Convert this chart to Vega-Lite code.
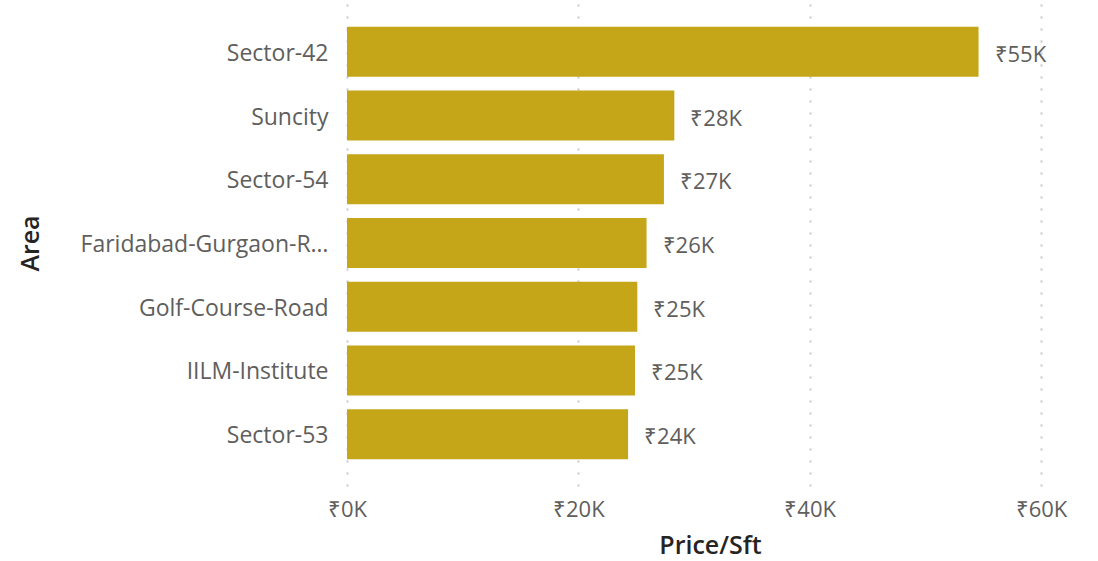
{
  "$schema": "https://vega.github.io/schema/vega-lite/v6.json",
  "autosize": {"type": "none"},
  "padding": {"left": 347, "top": 0, "right": 57, "bottom": 75},
  "width": 694,
  "height": 486,
  "background": "white",
  "config": {
    "view": {"stroke": null},
    "font": "Open Sans"
  },
  "data": {
    "values": [
      {"Area": "Sector-42", "Price": 54600},
      {"Area": "Suncity", "Price": 28300},
      {"Area": "Sector-54", "Price": 27400},
      {"Area": "Faridabad-Gurgaon-Road", "Price": 25900},
      {"Area": "Golf-Course-Road", "Price": 25100},
      {"Area": "IILM-Institute", "Price": 24900},
      {"Area": "Sector-53", "Price": 24300}
    ]
  },
  "encoding": {
    "y": {
      "field": "Area",
      "type": "nominal",
      "sort": ["Sector-42", "Suncity", "Sector-54", "Faridabad-Gurgaon-Road", "Golf-Course-Road", "IILM-Institute", "Sector-53"],
      "scale": {"paddingInner": 0.215, "paddingOuter": 0.42},
      "axis": {
        "title": "Area",
        "domain": false,
        "ticks": false,
        "labelFontSize": 23,
        "labelColor": "#605E5C",
        "labelPadding": 19,
        "labelOffset": 2,
        "labelLimit": 256,
        "titleFontSize": 25,
        "titleFontWeight": 600,
        "titleColor": "#252423",
        "titleX": -317,
        "titleY": 243,
        "titleAngle": 270,
        "titleAlign": "center",
        "titleBaseline": "middle"
      }
    },
    "x": {
      "field": "Price",
      "type": "quantitative",
      "scale": {"domain": [0, 60000], "nice": false},
      "axis": {
        "title": "Price/Sft",
        "values": [0, 20000, 40000, 60000],
        "labelExpr": "'₹' + (datum.value/1000) + 'K'",
        "labelFlush": false,
        "domain": false,
        "ticks": false,
        "grid": true,
        "gridDash": [2, 10],
        "gridColor": "#C8C8C8",
        "gridWidth": 2,
        "labelFontSize": 22,
        "labelColor": "#605E5C",
        "labelPadding": 13,
        "titleFontSize": 25,
        "titleFontWeight": 600,
        "titleColor": "#252423",
        "titleX": 363,
        "titleY": 59,
        "titleBaseline": "middle"
      }
    }
  },
  "layer": [
    {"mark": {"type": "bar", "color": "#C4A618"}},
    {
      "mark": {"type": "text", "align": "left", "baseline": "middle", "dx": 16, "dy": 3, "fontSize": 22, "color": "#605E5C"},
      "encoding": {
        "text": {"field": "label"}
      },
      "transform": [
        {"calculate": "'₹' + format(datum.Price/1000, '.0f') + 'K'", "as": "label"}
      ]
    }
  ]
}
